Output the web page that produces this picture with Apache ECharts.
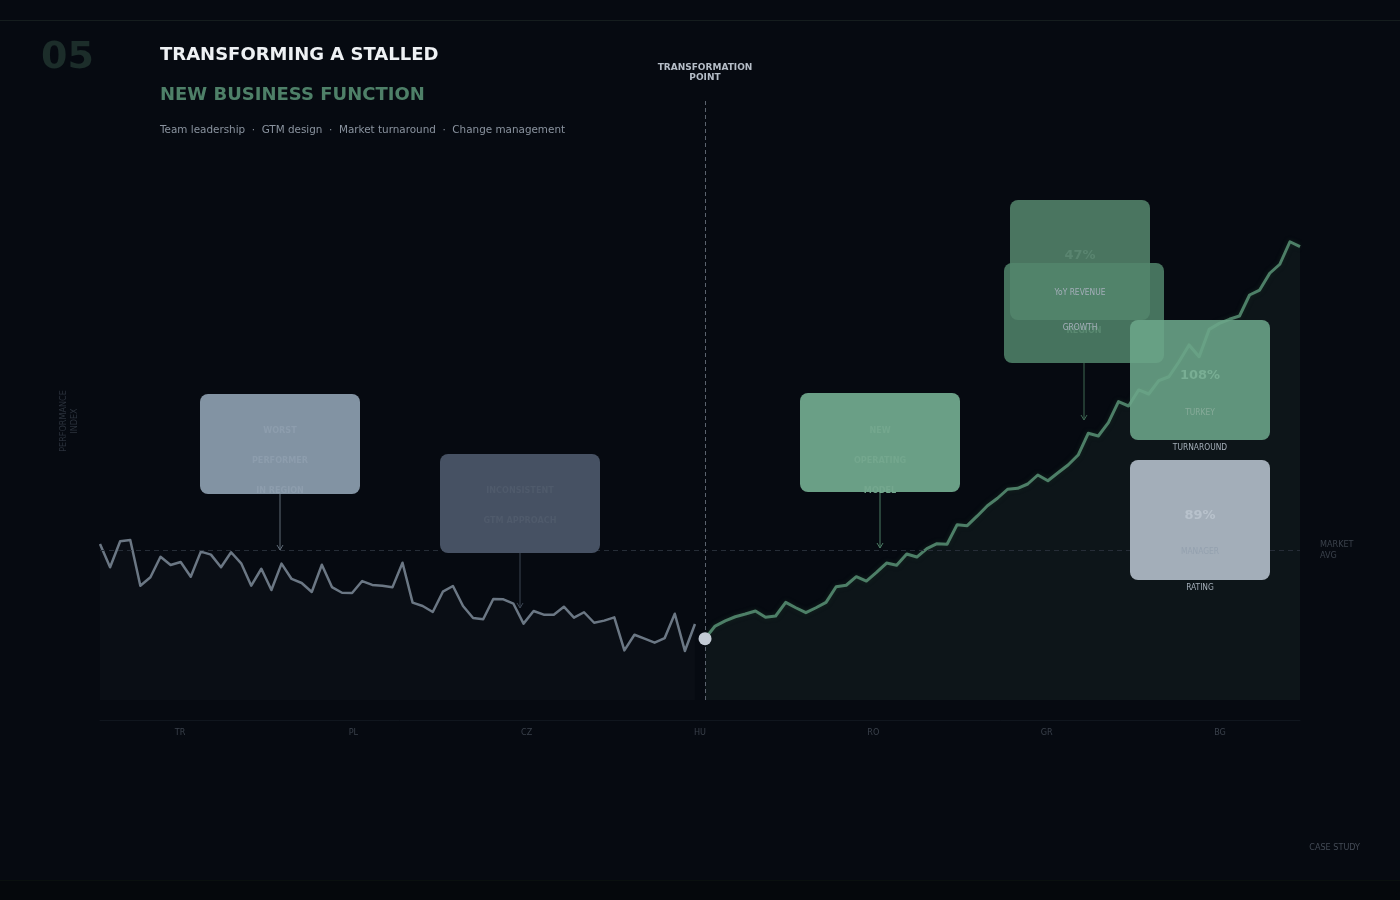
<!DOCTYPE html>
<html><head><meta charset="utf-8">
<script src="https://cdn.jsdelivr.net/npm/echarts@6/dist/echarts.min.js"></script>
<style>html,body{margin:0;padding:0;background:#060a11}#c{width:1400px;height:900px}</style>
</head><body><div id="c"></div>
<script>
// ---------- data ----------
const regions = ['TR', 'PL', 'CZ', 'HU', 'RO', 'GR', 'BG'];
const beforeIndex = [104, 88.5, 105.8, 106.7, 76.2, 81.8, 95.5, 90, 92, 82.2, 98.9, 96.9, 88.5, 98.5, 91.1, 76.2, 87.5, 73.3, 90.9, 80.7, 78, 72, 90.2, 75.3, 71.5, 71.3, 79.3, 76.7, 76.2, 75.1, 91.5, 64.9, 62.7, 58.7, 72.2, 76, 62.7, 54.7, 53.8, 67.3, 67.1, 64.2, 50.9, 59.3, 56.9, 56.9, 62.2, 54.9, 58.5, 51.5, 52.9, 55.1, 33.1, 43.5, 40.9, 38.2, 41.3, 57.5, 32.7, 50.7];
const afterIndex = [40.9, 49.3, 52.7, 55.5, 57.3, 59.3, 55.1, 56, 65.1, 61.5, 58.2, 61.5, 65.1, 75.5, 76.5, 82.2, 79.3, 85.1, 91.3, 89.8, 97.3, 95.3, 100.9, 104.2, 103.8, 116.9, 116.2, 122.7, 129.5, 134.5, 140.5, 141.1, 144, 150, 146.2, 151.5, 156.7, 163.3, 177.8, 176, 184.9, 198.9, 196, 206.7, 204, 212.9, 215.5, 225.5, 236.7, 228.9, 247.1, 251.1, 253.8, 256, 270, 273.3, 284.5, 290.5, 305.5, 302.2];
const marketAvg = 100;
const yRange = [0, 400];
const titleLines = ['TRANSFORMING A STALLED', 'NEW BUSINESS FUNCTION'];
const subtitle = 'Team leadership  ·  GTM design  ·  Market turnaround  ·  Change management';
const calloutWorst = ['WORST', 'PERFORMER', 'IN REGION'];
const calloutGtm = ['INCONSISTENT', 'GTM APPROACH'];
const calloutModel = ['NEW', 'OPERATING', 'MODEL'];
const kpiRevenue = ['47%', 'YoY REVENUE', 'GROWTH'];
const kpiTurkey = ['108%', 'TURKEY', 'TURNAROUND'];
const kpiManager = ['89%', 'MANAGER', 'RATING'];

// ---------- chart ----------
const pivot = beforeIndex.length;
const total = beforeIndex.length + afterIndex.length;
const beforeData = beforeIndex.map((v, i) => [i, v]);
const afterData = afterIndex.map((v, i) => [pivot + i, v]);

const COND = "'DejaVu Sans Condensed', 'DejaVu Sans', sans-serif";
const REG = "'DejaVu Sans', sans-serif";

function txt(x, y, text, fill, size, weight, family, align, extra) {
  return Object.assign({
    type: 'text', x: x, y: y, z: 120,
    style: { text: text, fill: fill, fontSize: size, fontWeight: weight || 'normal', fontFamily: family || COND,
      align: align || 'center', verticalAlign: 'middle' }
  }, extra || {});
}
function box(x, y, w, h, fill, z) {
  return { type: 'rect', z: z || 110, shape: { x: x, y: y, width: w, height: h, r: 8 }, style: { fill: fill } };
}
function arrow(x, y1, y2, color) {
  return [
    { type: 'line', z: 105, shape: { x1: x, y1: y1, x2: x, y2: y2 }, style: { stroke: color, lineWidth: 1 } },
    { type: 'polyline', z: 105, shape: { points: [[x - 3, y2 - 5], [x, y2], [x + 3, y2 - 5]] }, style: { stroke: color, lineWidth: 1, fill: null } }
  ];
}

const g = [];
// frame lines
g.push({ type: 'line', z: 1, shape: { x1: 0, y1: 20.5, x2: 1400, y2: 20.5 }, style: { stroke: '#151d1e', lineWidth: 1 } });
g.push({ type: 'rect', z: 1, shape: { x: 0, y: 880, width: 1400, height: 20 }, style: { fill: '#05080c' } });
g.push({ type: 'line', z: 1, shape: { x1: 0, y1: 880.5, x2: 1400, y2: 880.5 }, style: { stroke: '#0a100f', lineWidth: 1 } });
// header
g.push(txt(41, 58, '05', '#1c2d2a', 38, 'bold', REG, 'left'));
g.push(txt(160, 55, titleLines[0], '#eef1f4', 18, 'bold', REG, 'left'));
g.push(txt(160, 95, titleLines[1], '#4e8068', 18, 'bold', REG, 'left'));
g.push(txt(160, 130, subtitle, '#8a939f', 10.4, 'normal', REG, 'left'));
g.push(txt(705, 67.5, 'TRANSFORMATION', '#b5bdc7', 9, 'bold', REG));
g.push(txt(705, 77.5, 'POINT', '#b5bdc7', 9, 'bold', REG));
// y-axis title
g.push(txt(64, 421, 'PERFORMANCE', '#2b323c', 9, 'normal', COND, 'center', { rotation: Math.PI / 2 }));
g.push(txt(75, 421, 'INDEX', '#2b323c', 9, 'normal', COND, 'center', { rotation: Math.PI / 2 }));
// footer
g.push(txt(1360, 848, 'CASE STUDY', '#444b56', 9, 'normal', COND, 'right'));

// callout: worst performer
g.push(...arrow(280, 494, 550, '#5e6a77'));
g.push(box(200, 394, 160, 100, '#8293a3'));
calloutWorst.forEach((t, i) => g.push(txt(280, 431 + i * 30, t, '#8d9dad', 9, 'bold')));
// callout: inconsistent GTM
g.push(...arrow(520, 553, 608, '#3b4553'));
g.push(box(440, 454, 160, 99, '#465163'));
calloutGtm.forEach((t, i) => g.push(txt(520, 491 + i * 30, t, '#4f5a6b', 9, 'bold')));
// callout: new operating model
g.push(...arrow(880, 492, 548, '#4b7c64'));
g.push(box(800, 393, 160, 99, '#6a9f86'));
calloutModel.forEach((t, i) => g.push(txt(880, 430.5 + i * 30, t, '#74a78e', 9, 'bold')));

// KPI: revenue growth (two stacked cards)
g.push(...arrow(1084, 363, 420, '#3e6853'));
g.push(box(1010, 200, 140, 120, '#4a7560', 108));
g.push(txt(1080, 255.5, kpiRevenue[0], '#5a8570', 13, 'bold', REG));
g.push(box(1004, 263, 160, 100, 'rgba(82,134,108,0.85)', 110));
g.push(txt(1084, 330.5, 'REGION', '#5a8971', 9, 'bold', COND, 'center', { z: 111 }));
g.push(txt(1080, 292.5, kpiRevenue[1], '#a4aeb9', 8.4, 'normal'));
g.push(txt(1080, 327.5, kpiRevenue[2], '#a4aeb9', 8.4, 'normal'));

// KPI: turkey turnaround
g.push(box(1130, 320, 140, 120, 'rgba(108,166,138,0.88)', 112));
g.push(txt(1200, 375.5, kpiTurkey[0], '#79ae94', 13, 'bold', REG, 'center', { z: 122 }));
g.push(txt(1200, 412.5, kpiTurkey[1], '#86ab99', 8.4, 'normal', COND, 'center', { z: 122 }));
g.push(txt(1200, 447.5, kpiTurkey[2], '#a4aeb9', 8.4, 'normal', COND, 'center', { z: 122 }));

// KPI: manager rating
g.push(box(1130, 460, 140, 120, '#a3aeb9', 112));
g.push(txt(1200, 515.5, kpiManager[0], '#b8c2cc', 13, 'bold', REG, 'center', { z: 122 }));
g.push(txt(1200, 551.5, kpiManager[1], '#94a1af', 8.4, 'normal', COND, 'center', { z: 122 }));
g.push(txt(1200, 587.5, kpiManager[2], '#a4aeb9', 8.4, 'normal', COND, 'center', { z: 122 }));

const chart = echarts.init(document.getElementById('c'), null, { renderer: 'canvas' });
chart.setOption({
  backgroundColor: '#060a11',
  animation: false,
  grid: [
    { left: 100, right: 100, top: 100, bottom: 200 },
    { left: 93.33, right: 93.33, top: 100, bottom: 200 }
  ],
  xAxis: [
    { type: 'value', gridIndex: 0, min: 0, max: total - 1,
      axisLine: { show: true, onZero: false, lineStyle: { color: '#10161e', width: 1 } }, offset: 20,
      axisTick: { show: false }, axisLabel: { show: false }, splitLine: { show: false } },
    { type: 'category', gridIndex: 1, data: regions, boundaryGap: true,
      axisLine: { show: false }, axisTick: { show: false }, splitLine: { show: false },
      axisLabel: { color: '#3a414b', fontSize: 9, fontFamily: COND, margin: 28 } }
  ],
  yAxis: [
    { type: 'value', gridIndex: 0, min: yRange[0], max: yRange[1], show: false },
    { type: 'value', gridIndex: 1, min: 0, max: 1, show: false }
  ],
  series: [
    {
      type: 'line', name: 'Before', xAxisIndex: 0, yAxisIndex: 0, data: beforeData,
      symbol: 'none', z: 3,
      lineStyle: { color: '#6b7784', width: 2.5, join: 'round' },
      areaStyle: { color: '#0a0e15', opacity: 1, origin: 'start' },
      markLine: {
        silent: true, symbol: 'none', z: 4,
        data: [
          { yAxis: marketAvg, lineStyle: { color: '#262d37', type: [5, 4], width: 1 },
            label: { show: true, position: 'end', distance: 20, formatter: 'MARKET\nAVG', color: '#3b424c',
              fontSize: 9, fontFamily: COND, lineHeight: 11, align: 'left' } },
          { xAxis: pivot, lineStyle: { color: '#5b636e', type: [4, 3], width: 1 }, label: { show: false } }
        ]
      }
    },
    {
      type: 'line', name: 'After', xAxisIndex: 0, yAxisIndex: 0, data: afterData,
      symbol: 'none', z: 3,
      lineStyle: { color: '#4d7f67', width: 3, join: 'round', shadowColor: 'rgba(20,40,32,0.9)', shadowBlur: 4 },
      areaStyle: { color: '#0d1519', opacity: 1, origin: 'start' }
    },
    {
      type: 'scatter', name: 'Pivot', xAxisIndex: 0, yAxisIndex: 0, data: [afterData[0]],
      symbol: 'circle', symbolSize: 13, z: 6, itemStyle: { color: '#c3cbd5', opacity: 1 }
    }
  ],
  graphic: { elements: g }
});
</script></body></html>
